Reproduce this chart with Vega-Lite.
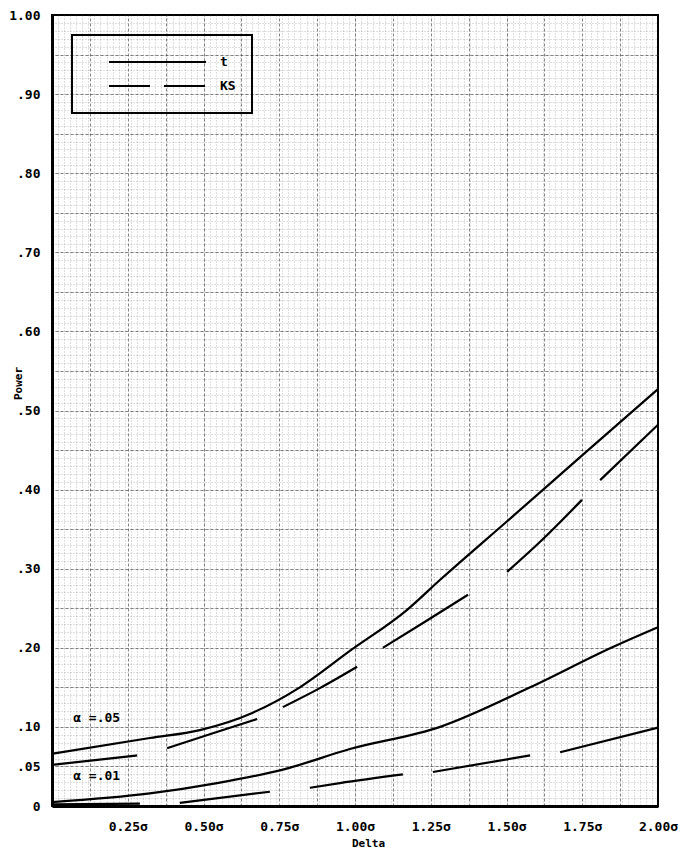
{
  "$schema": "https://vega.github.io/schema/vega-lite/v6.json",
  "width": 606,
  "height": 791,
  "autosize": "none",
  "padding": {"left": 52, "top": 15, "right": 31, "bottom": 49},
  "background": "white",
  "config": {
    "font": "DejaVu Sans Mono",
    "view": {"stroke": "black", "strokeWidth": 2},
    "legend": {"strokeWidth": 2}
  },
  "datasets": {
    "curves": [
      {"curve": "t05", "series": "t", "seg": 1, "delta": 0.0, "power": 0.066},
      {"curve": "t05", "series": "t", "seg": 1, "delta": 0.323, "power": 0.086},
      {"curve": "t05", "series": "t", "seg": 1, "delta": 0.488, "power": 0.096},
      {"curve": "t05", "series": "t", "seg": 1, "delta": 0.663, "power": 0.118},
      {"curve": "t05", "series": "t", "seg": 1, "delta": 0.818, "power": 0.150},
      {"curve": "t05", "series": "t", "seg": 1, "delta": 0.983, "power": 0.196},
      {"curve": "t05", "series": "t", "seg": 1, "delta": 1.172, "power": 0.248},
      {"curve": "t05", "series": "t", "seg": 1, "delta": 1.281, "power": 0.286},
      {"curve": "t05", "series": "t", "seg": 1, "delta": 1.502, "power": 0.360},
      {"curve": "t05", "series": "t", "seg": 1, "delta": 1.743, "power": 0.441},
      {"curve": "t05", "series": "t", "seg": 1, "delta": 2.0, "power": 0.527},

      {"curve": "ks05", "series": "KS", "seg": 1, "delta": 0.0, "power": 0.052},
      {"curve": "ks05", "series": "KS", "seg": 1, "delta": 0.142, "power": 0.058},
      {"curve": "ks05", "series": "KS", "seg": 1, "delta": 0.281, "power": 0.064},
      {"curve": "ks05", "series": "KS", "seg": 2, "delta": 0.380, "power": 0.073},
      {"curve": "ks05", "series": "KS", "seg": 2, "delta": 0.531, "power": 0.092},
      {"curve": "ks05", "series": "KS", "seg": 2, "delta": 0.677, "power": 0.110},
      {"curve": "ks05", "series": "KS", "seg": 3, "delta": 0.762, "power": 0.125},
      {"curve": "ks05", "series": "KS", "seg": 3, "delta": 0.884, "power": 0.149},
      {"curve": "ks05", "series": "KS", "seg": 3, "delta": 1.007, "power": 0.176},
      {"curve": "ks05", "series": "KS", "seg": 4, "delta": 1.092, "power": 0.200},
      {"curve": "ks05", "series": "KS", "seg": 4, "delta": 1.231, "power": 0.233},
      {"curve": "ks05", "series": "KS", "seg": 4, "delta": 1.373, "power": 0.267},
      {"curve": "ks05", "series": "KS", "seg": 5, "delta": 1.502, "power": 0.296},
      {"curve": "ks05", "series": "KS", "seg": 5, "delta": 1.611, "power": 0.334},
      {"curve": "ks05", "series": "KS", "seg": 5, "delta": 1.749, "power": 0.387},
      {"curve": "ks05", "series": "KS", "seg": 6, "delta": 1.809, "power": 0.412},
      {"curve": "ks05", "series": "KS", "seg": 6, "delta": 2.0, "power": 0.482},

      {"curve": "t01", "series": "t", "seg": 1, "delta": 0.0, "power": 0.005},
      {"curve": "t01", "series": "t", "seg": 1, "delta": 0.323, "power": 0.016},
      {"curve": "t01", "series": "t", "seg": 1, "delta": 0.545, "power": 0.029},
      {"curve": "t01", "series": "t", "seg": 1, "delta": 0.762, "power": 0.046},
      {"curve": "t01", "series": "t", "seg": 1, "delta": 0.983, "power": 0.072},
      {"curve": "t01", "series": "t", "seg": 1, "delta": 1.281, "power": 0.100},
      {"curve": "t01", "series": "t", "seg": 1, "delta": 1.578, "power": 0.150},
      {"curve": "t01", "series": "t", "seg": 1, "delta": 1.851, "power": 0.201},
      {"curve": "t01", "series": "t", "seg": 1, "delta": 2.0, "power": 0.226},

      {"curve": "ks01", "series": "KS", "seg": 1, "delta": 0.0, "power": 0.002},
      {"curve": "ks01", "series": "KS", "seg": 1, "delta": 0.290, "power": 0.003},
      {"curve": "ks01", "series": "KS", "seg": 2, "delta": 0.422, "power": 0.004},
      {"curve": "ks01", "series": "KS", "seg": 2, "delta": 0.719, "power": 0.018},
      {"curve": "ks01", "series": "KS", "seg": 3, "delta": 0.851, "power": 0.023},
      {"curve": "ks01", "series": "KS", "seg": 3, "delta": 0.950, "power": 0.029},
      {"curve": "ks01", "series": "KS", "seg": 3, "delta": 1.158, "power": 0.040},
      {"curve": "ks01", "series": "KS", "seg": 4, "delta": 1.257, "power": 0.043},
      {"curve": "ks01", "series": "KS", "seg": 4, "delta": 1.578, "power": 0.064},
      {"curve": "ks01", "series": "KS", "seg": 5, "delta": 1.677, "power": 0.068},
      {"curve": "ks01", "series": "KS", "seg": 5, "delta": 2.0, "power": 0.099}
    ],
    "notes": [
      {"label": "α =.05", "delta": 0.07, "power": 0.111},
      {"label": "α =.01", "delta": 0.07, "power": 0.038}
    ]
  },
  "layer": [
    {
      "data": {"name": "curves"},
      "mark": {"type": "line", "color": "black", "strokeWidth": 2.2, "interpolate": "monotone"},
      "encoding": {
        "x": {
          "field": "delta",
          "type": "quantitative",
          "scale": {"domain": [0, 2], "nice": false},
          "axis": {
            "orient": "bottom",
            "values": [0.25, 0.5, 0.75, 1.0, 1.25, 1.5, 1.75, 2.0],
            "labelExpr": "format(datum.value, '.2f') + 'σ'",
            "grid": false,
            "ticks": false,
            "domainColor": "black",
            "domainWidth": 3,
            "labelPadding": 14,
            "labelFont": "DejaVu Sans Mono",
            "labelFontSize": 13,
            "labelFontWeight": "bold",
            "labelColor": "black",
            "labelFlush": false,
            "labelOverlap": false,
            "title": "Delta",
            "titleFont": "DejaVu Sans Mono",
            "titleFontSize": 11,
            "titleFontWeight": "bold",
            "titleColor": "black",
            "titlePadding": 4,
            "titleX": 316,
            "zindex": 1
          }
        },
        "y": {
          "field": "power",
          "type": "quantitative",
          "scale": {"domain": [0, 1], "nice": false},
          "axis": {
            "orient": "left",
            "values": [0, 0.05, 0.1, 0.2, 0.3, 0.4, 0.5, 0.6, 0.7, 0.8, 0.9, 1.0],
            "labelExpr": "datum.value == 0 ? '0' : datum.value == 1 ? '1.00' : replace(format(datum.value, '.2f'), '0.', '.')",
            "grid": false,
            "ticks": false,
            "domainColor": "black",
            "domainWidth": 3,
            "labelPadding": 12,
            "labelFont": "DejaVu Sans Mono",
            "labelFontSize": 13,
            "labelFontWeight": "bold",
            "labelColor": "black",
            "labelFlush": false,
            "labelOverlap": false,
            "title": "Power",
            "titleFont": "DejaVu Sans Mono",
            "titleFontSize": 11,
            "titleFontWeight": "bold",
            "titleColor": "black",
            "titlePadding": -15,
            "titleY": 368,
            "zindex": 1
          }
        },
        "detail": [{"field": "curve"}, {"field": "seg"}]
      }
    },
    {
      "data": {"name": "curves"},
      "transform": [{"filter": "datum.delta == 0"}],
      "mark": {"type": "line", "color": "black", "strokeWidth": 2},
      "encoding": {
        "x": {
          "field": "delta",
          "type": "quantitative",
          "axis": {
            "orient": "top",
            "values": [0.125, 0.25, 0.375, 0.5, 0.625, 0.75, 0.875, 1.0, 1.125, 1.25, 1.375, 1.5, 1.625, 1.75, 1.875],
            "grid": true,
            "gridColor": "#333333",
            "gridDash": [3, 2],
            "gridOpacity": 0.6,
            "labels": false,
            "ticks": false,
            "domain": false,
            "title": null
          }
        },
        "y": {
          "field": "power",
          "type": "quantitative",
          "axis": {
            "orient": "right",
            "values": [0.05, 0.1, 0.15, 0.2, 0.25, 0.3, 0.35, 0.4, 0.45, 0.5, 0.55, 0.6, 0.65, 0.7, 0.75, 0.8, 0.85, 0.9, 0.95],
            "grid": true,
            "gridColor": "#333333",
            "gridDash": [3, 2],
            "gridOpacity": 0.6,
            "labels": false,
            "ticks": false,
            "domain": false,
            "title": null
          }
        },
        "strokeDash": {
          "field": "series",
          "type": "nominal",
          "scale": {"domain": ["t", "KS"], "range": [[1, 0], [41, 14]]},
          "legend": {
            "title": null,
            "orient": "top-left",
            "offset": 20,
            "symbolType": "stroke",
            "symbolSize": 9409,
            "symbolStrokeWidth": 2,
            "symbolStrokeColor": "black",
            "symbolOffset": 20,
            "labelOffset": 13,
            "labelFont": "DejaVu Sans Mono",
            "labelFontSize": 13,
            "labelFontWeight": "bold",
            "labelColor": "black",
            "clipHeight": 22,
            "rowPadding": 2,
            "padding": 16,
            "strokeColor": "black"
          }
        },
        "detail": {"field": "curve"}
      }
    },
    {
      "data": {"name": "notes"},
      "mark": {"type": "text", "align": "left", "baseline": "middle", "font": "DejaVu Sans Mono", "fontSize": 13, "fontWeight": "bold", "color": "black"},
      "encoding": {
        "x": {
          "field": "delta",
          "type": "quantitative",
          "axis": {
            "orient": "bottom",
            "tickCount": 80,
            "grid": true,
            "gridColor": "#666666",
            "gridDash": [1, 2],
            "gridOpacity": {"condition": {"test": "datum.value >= 2", "value": 0}, "value": 0.42},
            "labels": false,
            "ticks": false,
            "domain": false,
            "title": null
          }
        },
        "y": {
          "field": "power",
          "type": "quantitative",
          "axis": {
            "orient": "left",
            "tickCount": 100,
            "grid": true,
            "gridColor": "#666666",
            "gridDash": [1, 2],
            "gridOpacity": {"condition": {"test": "datum.value >= 1", "value": 0}, "value": 0.42},
            "labels": false,
            "ticks": false,
            "domain": false,
            "title": null
          }
        },
        "text": {"field": "label"}
      }
    }
  ],
  "resolve": {"axis": {"x": "independent", "y": "independent"}}
}
